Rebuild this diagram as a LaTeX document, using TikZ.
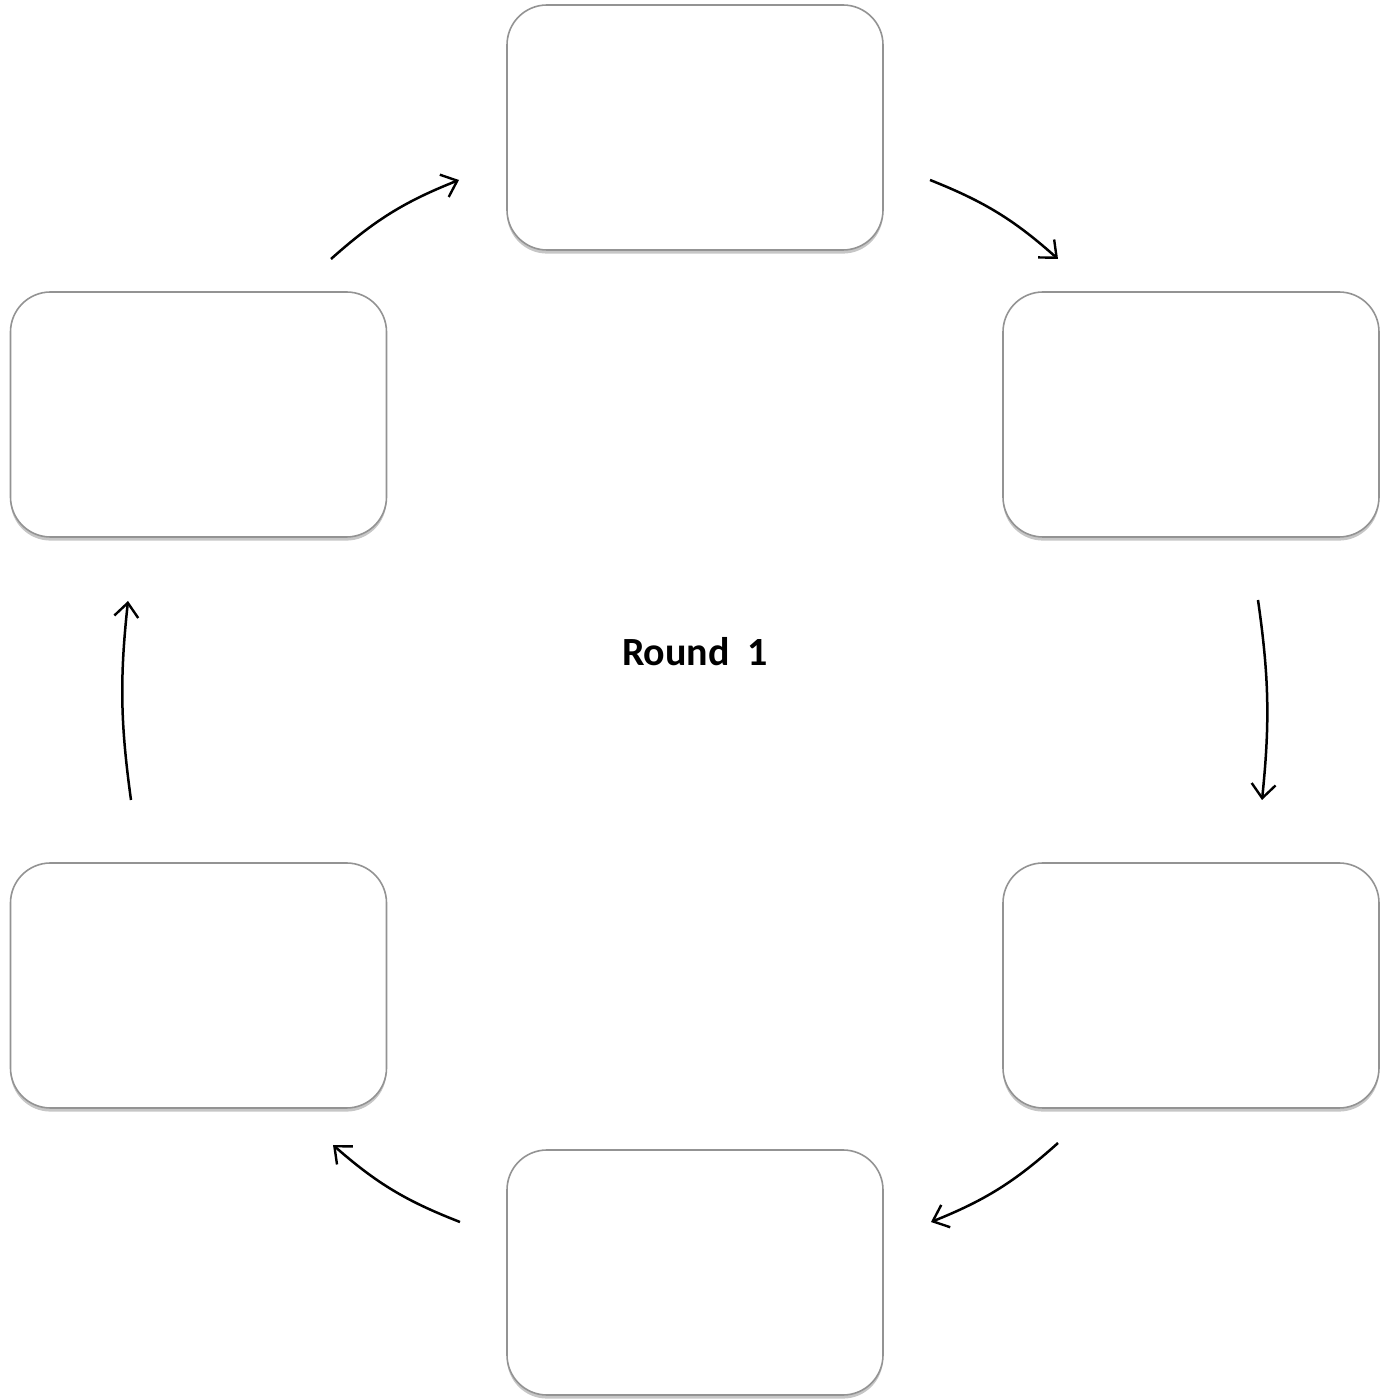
\documentclass[tikz,border=0pt]{standalone}
\usepackage{fontspec}
\setmainfont{Carlito}
\usetikzlibrary{arrows.meta,shadows}
\tikzset{
  >={Straight Barb[length=7pt,width=12pt,line width=1.2pt]},
}
\tikzstyle{box}=[draw=gray!85,line width=0.8pt,fill=white,rounded corners=20pt,
  minimum width=188pt,minimum height=122.5pt,outer sep=0pt,
  drop shadow={shadow xshift=0pt,shadow yshift=-1.8pt,opacity=.45,fill=gray}]
\tikzstyle{cycle}=[line width=1.25pt,->,bend left=10]

\begin{document}
\begin{tikzpicture}[x=0.5pt,y=0.5pt]
    \useasboundingbox (0,0) rectangle (1389,1399);
    % boxes
    \node[box] (top) at (695,1271.5) {};
    \node[box] (rightup) at (1191,984.5) {};
    \node[box] (rightdown) at (1191,413.5) {};
    \node[box] (bottom) at (695,126.5) {};
    \node[box] (leftdown) at (198.5,413.5) {};
    \node[box] (leftup) at (198.5,984.5) {};
    \node[font=\fontsize{20}{24}\selectfont\bfseries] (round) at (695,747) {Round\hspace{0.45em}1};
    % arrow ends
    \coordinate (a1) at (331,1140); \coordinate (b1) at (459,1219);
    \coordinate (a2) at (930,1219); \coordinate (b2) at (1058,1140);
    \coordinate (a3) at (1258,799); \coordinate (b3) at (1262,599);
    \coordinate (a4) at (1058,256); \coordinate (b4) at (931,177);
    \coordinate (a5) at (460,177); \coordinate (b5) at (333,254);
    \coordinate (a6) at (131,599); \coordinate (b6) at (128,798);
    \draw[cycle] (a1) to (b1);
    \draw[cycle] (a2) to (b2);
    \draw[cycle,bend left=7] (a3) to (b3);
    \draw[cycle] (a4) to (b4);
    \draw[cycle] (a5) to (b5);
    \draw[cycle,bend left=7] (a6) to (b6);
  \end{tikzpicture}
\end{document}
